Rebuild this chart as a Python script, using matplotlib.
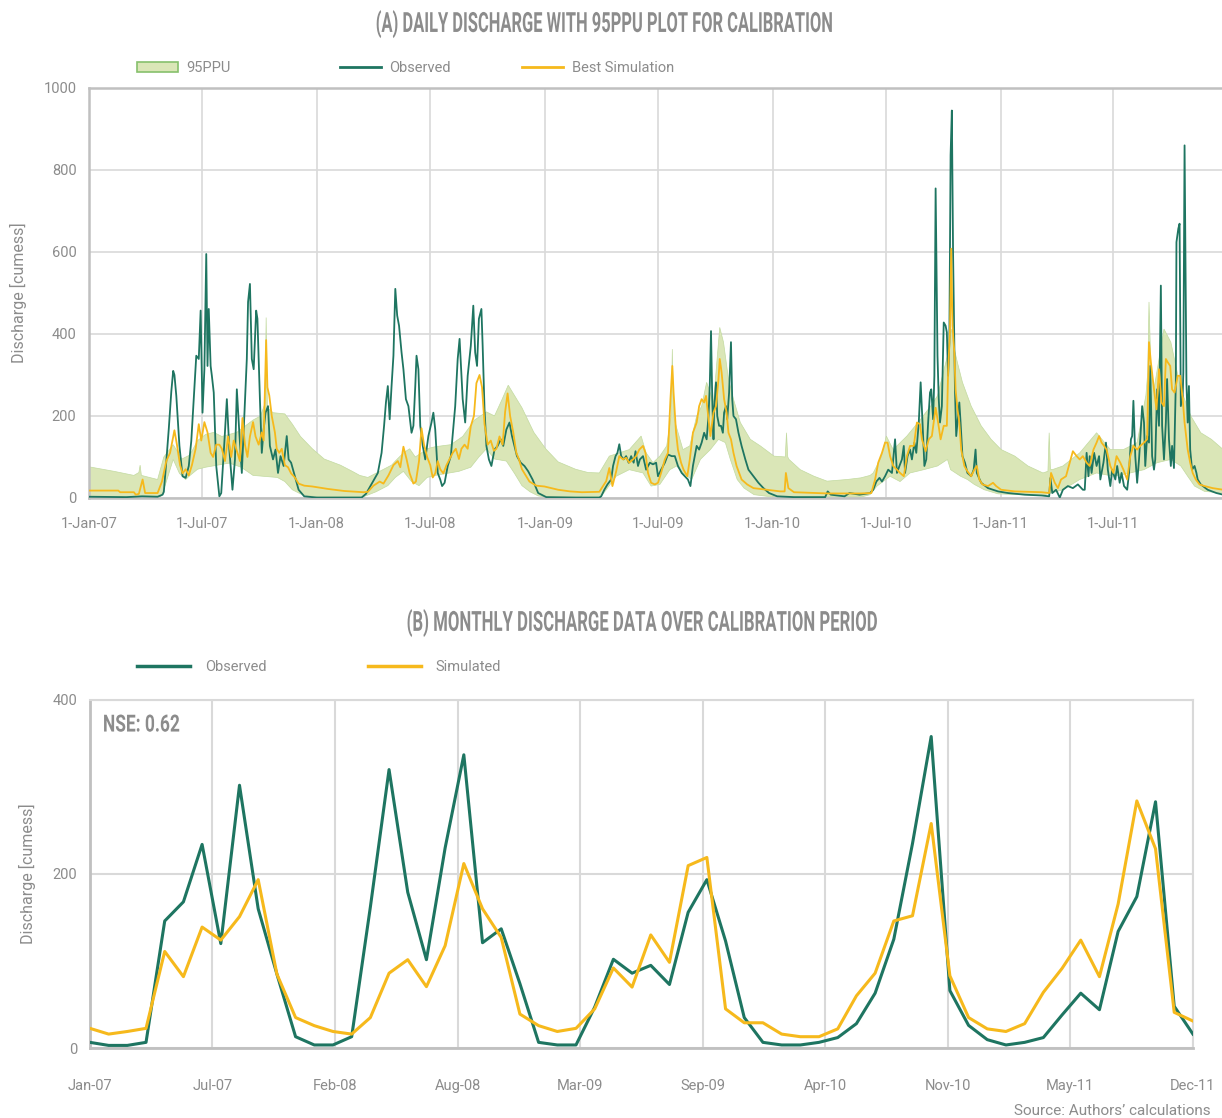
import numpy as np
import matplotlib
matplotlib.use('Agg')
import matplotlib.pyplot as plt
from matplotlib.patches import Patch
from matplotlib.lines import Line2D
from matplotlib import patheffects
from matplotlib.transforms import Affine2D

### Data

# daily series: (day since 1-Jan-2007, discharge)
obs_daily = [
    (0, 3), (60, 2), (85, 4), (110, 3), (118, 8), (120, 15), (124, 90), (128, 170), (132, 260), (135, 310),
    (137, 300), (140, 249), (145, 127), (150, 53), (155, 49), (160, 78), (164, 139), (168, 241), (172, 347),
    (176, 339), (179, 457), (182, 208), (185, 314), (188, 595), (190, 322), (192, 461), (195, 322), (197, 298),
    (200, 257), (204, 78), (209, 4), (212, 12), (217, 135), (221, 241), (225, 118), (230, 20), (234, 94),
    (237, 265), (241, 159), (245, 61), (249, 200), (253, 339), (255, 478), (258, 522), (261, 339), (264, 314),
    (268, 457), (270, 437), (274, 241), (277, 110), (280, 167), (283, 208), (287, 224), (290, 127), (295, 94),
    (299, 118), (303, 61), (307, 102), (312, 78), (317, 151), (320, 94), (324, 86), (330, 53), (336, 20),
    (345, 4), (365, 1), (400, 1), (437, 1), (444, 10), (454, 37), (463, 61), (469, 110), (473, 176), (476, 233),
    (479, 273), (482, 192), (485, 273), (488, 347), (491, 510), (494, 445), (497, 420), (501, 355), (504, 314),
    (508, 241), (512, 224), (517, 159), (520, 176), (523, 273), (525, 347), (528, 314), (531, 176), (535, 127),
    (539, 94), (544, 151), (549, 184), (552, 208), (555, 167), (559, 61), (563, 45), (566, 29), (570, 37),
    (575, 78), (580, 102), (587, 224), (591, 339), (594, 388), (596, 331), (599, 241), (603, 184), (607, 298),
    (612, 371), (616, 469), (619, 355), (622, 322), (625, 437), (629, 461), (631, 371), (634, 216), (637, 127),
    (641, 94), (645, 78), (650, 118), (655, 127), (660, 143), (664, 127), (669, 167), (674, 184), (678, 151),
    (682, 127), (686, 102), (692, 86), (698, 78), (704, 65), (711, 45), (720, 12), (733, 2), (780, 1),
    (818, 1), (821, 4), (826, 20), (831, 33), (837, 45), (840, 78), (844, 102), (847, 110), (850, 131),
    (853, 102), (857, 94), (861, 102), (865, 86), (869, 102), (873, 86), (876, 114), (880, 78), (883, 94),
    (888, 102), (893, 69), (899, 86), (904, 82), (909, 86), (912, 53), (917, 69), (923, 86), (928, 106),
    (934, 102), (939, 102), (944, 78), (950, 61), (955, 53), (960, 45), (964, 29), (968, 78), (974, 127),
    (978, 118), (982, 135), (986, 159), (990, 143), (993, 200), (995, 273), (997, 407), (999, 241), (1001, 143),
    (1002, 216), (1005, 282), (1007, 200), (1010, 176), (1013, 176), (1016, 159), (1018, 208), (1021, 224),
    (1023, 192), (1026, 257), (1029, 380), (1031, 241), (1033, 200), (1037, 192), (1041, 159), (1046, 127),
    (1052, 94), (1057, 69), (1065, 53), (1073, 37), (1081, 24), (1090, 12), (1103, 4), (1130, 2), (1180, 2),
    (1184, 16), (1189, 8), (1211, 4), (1219, 12), (1235, 8), (1252, 12), (1257, 20), (1262, 40), (1267, 49),
    (1271, 40), (1276, 53), (1281, 69), (1287, 61), (1292, 143), (1295, 61), (1299, 78), (1303, 94),
    (1306, 127), (1308, 61), (1312, 102), (1316, 118), (1319, 94), (1323, 135), (1326, 110), (1330, 184),
    (1333, 282), (1336, 184), (1339, 78), (1342, 94), (1345, 184), (1348, 257), (1350, 265), (1353, 192),
    (1355, 298), (1357, 755), (1360, 347), (1362, 241), (1364, 184), (1367, 224), (1370, 428), (1373, 420),
    (1375, 404), (1377, 298), (1379, 379), (1381, 836), (1383, 945), (1385, 592), (1388, 265), (1390, 151),
    (1392, 184), (1395, 233), (1397, 184), (1400, 102), (1404, 86), (1408, 61), (1414, 53), (1418, 69),
    (1421, 118), (1423, 61), (1430, 37), (1441, 24), (1457, 16), (1473, 12), (1500, 8), (1527, 6), (1539, 4),
    (1541, 49), (1544, 12), (1550, 20), (1556, 1), (1561, 20), (1569, 29), (1577, 24), (1585, 33), (1593, 20),
    (1596, 20), (1599, 110), (1602, 53), (1604, 102), (1607, 61), (1611, 110), (1615, 78), (1619, 102),
    (1621, 45), (1626, 86), (1630, 135), (1633, 69), (1637, 29), (1640, 69), (1645, 45), (1648, 78), (1652, 37),
    (1655, 61), (1659, 29), (1664, 20), (1667, 61), (1670, 143), (1672, 151), (1674, 237), (1677, 102),
    (1680, 37), (1683, 94), (1685, 143), (1688, 224), (1691, 184), (1693, 78), (1696, 151), (1699, 135),
    (1701, 322), (1704, 102), (1707, 69), (1709, 94), (1712, 265), (1715, 176), (1718, 518), (1720, 176),
    (1723, 94), (1726, 184), (1728, 290), (1731, 143), (1734, 78), (1736, 127), (1739, 73), (1742, 282),
    (1743, 624), (1746, 657), (1748, 669), (1750, 224), (1753, 249), (1754, 306), (1756, 860), (1759, 282),
    (1761, 184), (1763, 273), (1765, 118), (1768, 69), (1772, 78), (1775, 61), (1777, 45), (1782, 33),
    (1793, 20), (1807, 12), (1818, 8),
]

sim_daily = [
    (0, 18), (47, 18), (50, 14), (72, 14), (75, 8), (80, 10), (86, 45), (90, 12), (110, 12), (117, 40),
    (124, 90), (130, 110), (137, 165), (141, 130), (146, 80), (150, 60), (155, 70), (160, 55), (165, 80),
    (171, 120), (176, 180), (180, 140), (185, 185), (190, 160), (195, 110), (199, 100), (204, 130), (209, 130),
    (213, 120), (218, 90), (223, 150), (228, 100), (232, 140), (237, 115), (242, 90), (246, 195), (250, 130),
    (254, 100), (258, 150), (263, 185), (267, 150), (272, 130), (277, 160), (280, 140), (284, 385), (286, 270),
    (289, 250), (293, 200), (298, 160), (301, 120), (305, 110), (309, 120), (314, 80), (319, 75), (324, 60),
    (330, 50), (336, 35), (345, 30), (358, 28), (383, 22), (409, 17), (440, 14), (447, 15), (456, 30),
    (466, 40), (472, 35), (480, 55), (488, 80), (495, 90), (499, 75), (504, 125), (509, 95), (514, 60),
    (520, 35), (524, 40), (529, 90), (533, 170), (537, 130), (542, 100), (547, 80), (551, 50), (555, 60),
    (559, 90), (563, 70), (568, 60), (573, 80), (578, 95), (583, 110), (588, 120), (593, 95), (597, 120),
    (602, 130), (607, 120), (612, 175), (617, 200), (621, 280), (626, 300), (630, 270), (634, 180), (639, 130),
    (644, 140), (649, 115), (653, 120), (658, 150), (663, 130), (667, 210), (671, 255), (675, 200), (680, 160),
    (685, 110), (689, 95), (694, 70), (700, 55), (706, 40), (717, 30), (730, 28), (752, 20), (771, 16),
    (790, 14), (818, 15), (829, 41), (834, 73), (839, 29), (845, 65), (850, 102), (856, 94), (861, 98),
    (866, 86), (872, 94), (877, 102), (882, 118), (888, 127), (892, 110), (896, 61), (901, 37), (907, 33),
    (912, 37), (917, 61), (923, 94), (928, 110), (932, 241), (935, 322), (937, 257), (941, 159), (944, 118),
    (949, 86), (953, 69), (959, 53), (963, 94), (968, 159), (974, 184), (978, 224), (982, 241), (986, 233),
    (989, 249), (993, 192), (996, 151), (1001, 208), (1005, 224), (1009, 290), (1011, 339), (1014, 306),
    (1018, 241), (1022, 208), (1025, 159), (1029, 143), (1033, 110), (1038, 78), (1046, 45), (1055, 33),
    (1065, 24), (1087, 20), (1108, 16), (1115, 16), (1117, 61), (1121, 24), (1130, 14), (1184, 11),
    (1237, 11), (1254, 12), (1260, 45), (1265, 86), (1271, 110), (1276, 135), (1280, 135), (1284, 102),
    (1289, 78), (1295, 69), (1300, 61), (1306, 53), (1311, 102), (1316, 127), (1322, 127), (1327, 184),
    (1332, 180), (1335, 143), (1341, 114), (1346, 143), (1351, 151), (1357, 220), (1361, 184), (1365, 143),
    (1370, 176), (1375, 176), (1377, 306), (1380, 412), (1382, 608), (1384, 420), (1387, 355), (1389, 265),
    (1392, 216), (1395, 184), (1398, 118), (1403, 78), (1408, 65), (1414, 53), (1419, 69), (1423, 78),
    (1427, 45), (1432, 33), (1441, 29), (1449, 37), (1454, 29), (1462, 20), (1484, 16), (1527, 14),
    (1539, 12), (1542, 61), (1548, 37), (1553, 24), (1558, 45), (1566, 53), (1572, 86), (1577, 114),
    (1583, 102), (1588, 94), (1593, 102), (1599, 86), (1604, 78), (1610, 118), (1615, 135), (1619, 151),
    (1623, 135), (1627, 127), (1631, 118), (1637, 78), (1642, 61), (1647, 102), (1653, 86), (1658, 69),
    (1664, 45), (1669, 102), (1674, 127), (1680, 118), (1685, 127), (1691, 135), (1696, 143), (1699, 380),
    (1702, 331), (1707, 265), (1711, 216), (1715, 314), (1719, 233), (1723, 224), (1726, 339), (1729, 331),
    (1733, 322), (1736, 265), (1740, 257), (1745, 298), (1749, 298), (1753, 241), (1756, 184), (1761, 118),
    (1765, 86), (1769, 61), (1774, 45), (1780, 33), (1788, 29), (1801, 24), (1818, 20),
]

ppu_upper = [
    (0, 76), (40, 65), (72, 55), (80, 62), (82, 80), (84, 55), (110, 45), (120, 100), (135, 130), (149, 95),
    (162, 105), (174, 140), (187, 155), (200, 160), (213, 150), (237, 160), (263, 190), (275, 200), (282, 230),
    (284, 440), (286, 220), (295, 208), (314, 205), (326, 180), (339, 150), (358, 120), (377, 95), (403, 80),
    (422, 65), (434, 55), (447, 50), (466, 65), (485, 80), (491, 90), (504, 110), (514, 120), (523, 100),
    (533, 110), (542, 120), (555, 125), (580, 130), (599, 150), (618, 190), (637, 210), (650, 200), (662, 240),
    (672, 275), (682, 250), (694, 220), (713, 160), (732, 120), (752, 88), (780, 70), (800, 62), (818, 61),
    (834, 102), (850, 110), (866, 118), (885, 151), (893, 110), (904, 86), (915, 102), (926, 127), (933, 200),
    (935, 363), (937, 200), (941, 176), (952, 118), (963, 127), (974, 200), (982, 224), (990, 282), (1001, 233),
    (1011, 416), (1017, 380), (1025, 290), (1033, 241), (1044, 184), (1060, 143), (1076, 127), (1098, 102),
    (1116, 100), (1118, 159), (1120, 100), (1122, 94), (1140, 69), (1162, 53), (1183, 41), (1215, 45),
    (1237, 49), (1252, 55), (1257, 61), (1270, 100), (1278, 151), (1289, 118), (1311, 151), (1333, 192),
    (1349, 224), (1360, 249), (1376, 347), (1382, 412), (1387, 363), (1392, 330), (1400, 282), (1414, 224),
    (1430, 176), (1446, 143), (1462, 118), (1484, 102), (1505, 78), (1529, 61), (1537, 65), (1539, 159),
    (1541, 70), (1544, 69), (1561, 78), (1588, 110), (1615, 159), (1637, 118), (1658, 118), (1680, 135),
    (1694, 250), (1697, 306), (1699, 478), (1702, 320), (1707, 265), (1723, 412), (1734, 380), (1750, 265),
    (1766, 200), (1782, 159), (1799, 143), (1818, 118),
]

ppu_lower = [
    (0, 3), (115, 3), (122, 30), (135, 94), (145, 60), (155, 45), (162, 55), (174, 70), (187, 75), (206, 80),
    (225, 85), (244, 75), (263, 55), (302, 50), (314, 40), (326, 20), (339, 10), (352, 5), (365, 3), (440, 3),
    (460, 15), (479, 30), (491, 50), (504, 65), (517, 40), (529, 30), (542, 50), (555, 55), (574, 60),
    (593, 65), (612, 75), (625, 100), (637, 120), (650, 95), (669, 90), (682, 60), (694, 30), (707, 15),
    (720, 5), (733, 2), (820, 2), (829, 20), (845, 53), (866, 69), (888, 61), (901, 29), (915, 33), (931, 69),
    (942, 78), (952, 61), (966, 45), (980, 94), (996, 118), (1009, 143), (1020, 135), (1028, 94), (1039, 45),
    (1050, 24), (1066, 8), (1087, 4), (1237, 2), (1252, 8), (1263, 29), (1284, 53), (1300, 40), (1316, 61),
    (1338, 69), (1360, 78), (1376, 94), (1381, 69), (1389, 61), (1397, 53), (1408, 45), (1419, 33),
    (1435, 20), (1457, 10), (1527, 6), (1561, 20), (1588, 45), (1615, 61), (1642, 53), (1669, 61), (1691, 69),
    (1712, 86), (1734, 94), (1750, 78), (1761, 53), (1772, 29), (1788, 16), (1818, 12),
]

daily_ticks = ['2007-01-01', '2007-07-01', '2008-01-01', '2008-07-01', '2009-01-01',
               '2009-07-01', '2010-01-01', '2010-07-01', '2011-01-01', '2011-07-01']
daily_tick_labels = ['1-Jan-07', '1-Jul-07', '1-Jan-08', '1-Jul-08', '1-Jan-09',
                     '1-Jul-09', '1-Jan-10', '1-Jul-10', '1-Jan-11', '1-Jul-11']

# monthly series Jan-07 .. Dec-11
obs_monthly = [6.5, 3, 3, 6.5, 146, 168, 234, 120, 302, 160,
               85, 13, 3.5, 3.5, 13, 162, 320, 179, 101.5, 230,
               337, 121, 137, 74, 6.5, 3.5, 3.5, 47, 102, 86,
               95, 73, 156, 193.5, 123, 35, 6.5, 3.5, 3.5, 6.5,
               12, 28, 63, 125, 235, 358, 66, 26, 9.6, 3.5,
               6.5, 12, 38, 63, 44, 134, 174, 283, 48, 16]
sim_monthly = [22.6, 16, 19, 22.6, 111, 82, 139, 124, 151, 193.5,
               85, 35, 25.7, 19, 16, 35, 86, 101.5, 70.5, 117.6,
               212, 160, 127, 39, 25.7, 19, 22.6, 45, 92, 70,
               130, 98.5, 209.6, 219, 45, 29, 29, 16, 13, 13,
               22, 60, 86, 146, 152, 258, 83, 35, 22, 19,
               28, 64, 91.5, 124, 82, 165.5, 284, 229, 41, 31]
monthly_tick_labels = ['Jan-07', 'Jul-07', 'Feb-08', 'Aug-08', 'Mar-09',
                       'Sep-09', 'Apr-10', 'Nov-10', 'May-11', 'Dec-11']

### Styling
GREEN = '#1e7561'
YELLOW = '#f6b91c'
BAND = '#dae6b7'
BAND_EDGE = '#c2daa0'
GRAY_TXT = '#8c8c8c'
GRID = '#d9d9d9'
SPINE = '#c0c0c0'

plt.rcParams['font.family'] = ['Roboto', 'DejaVu Sans']


class Squeeze(patheffects.AbstractPathEffect):
    # narrow a text horizontally around x0 (display px) to mimic a condensed face
    def __init__(self, sx, x0):
        super().__init__()
        self.sx = sx
        self.x0 = x0

    def draw_path(self, renderer, gc, tpath, affine, rgbFace=None):
        aff = affine + Affine2D().translate(-self.x0, 0).scale(self.sx, 1).translate(self.x0, 0)
        renderer.draw_path(gc, tpath, aff, rgbFace)


start = np.datetime64('2007-01-01')


def to_dates(pairs):
    days = np.array([p[0] for p in pairs])
    vals = np.array([p[1] for p in pairs], dtype=float)
    return start + days.astype('timedelta64[D]'), vals


def legend_item(handle, label, x, y, hlen, tpad=0.6):
    # one legend entry whose handle starts at figure fraction x
    leg = fig.legend([handle], [label], loc='center left', bbox_to_anchor=(x, y),
                     frameon=False, borderpad=0, borderaxespad=0, handlelength=hlen,
                     handletextpad=tpad, fontsize=10.5, labelcolor=GRAY_TXT)
    return leg


obs_d, obs_v = to_dates(obs_daily)
sim_d, sim_v = to_dates(sim_daily)
up_d, up_v = to_dates(ppu_upper)
lo_d, lo_v = to_dates(ppu_lower)

fig = plt.figure(figsize=(12.22, 11.18), dpi=100)
W = 1222.0

### (A) daily
ax1 = fig.add_axes([0.0728, 0.5546, 0.9272, 0.3667])
band_x = np.concatenate([up_d, lo_d[::-1]])
band_y = np.concatenate([up_v, lo_v[::-1]])
ax1.fill(band_x, band_y, facecolor=BAND, edgecolor=BAND_EDGE, linewidth=0.5, zorder=1)
ax1.plot(obs_d, obs_v, color=GREEN, lw=1.3, zorder=3)
ax1.plot(sim_d, sim_v, color=YELLOW, lw=1.3, zorder=4)

ax1.set_xlim(start, np.datetime64('2011-12-22'))
ax1.set_ylim(0, 1000)
ax1.set_yticks(np.arange(0, 1001, 200))
ax1.set_xticks([np.datetime64(t) for t in daily_ticks])
ax1.set_xticklabels(daily_tick_labels)
ax1.grid(True, color=GRID, lw=1.2, zorder=0)
ax1.set_axisbelow(True)
for s in ['left', 'bottom', 'top']:
    ax1.spines[s].set_color(SPINE)
    ax1.spines[s].set_linewidth(1.8)
ax1.spines['right'].set_visible(False)
ax1.tick_params(length=0, labelsize=10.5, labelcolor=GRAY_TXT, pad=9)
ax1.tick_params(axis='x', pad=14)
ax1.set_ylabel('Discharge [cumess]', color=GRAY_TXT, fontsize=11.5, labelpad=12)

title_a = fig.text(0.494, 0.9785, '(A) DAILY DISCHARGE WITH 95PPU PLOT FOR CALIBRATION',
                   ha='center', va='center', fontsize=20, fontweight='bold', color=GRAY_TXT)

legend_item(Patch(facecolor=BAND, edgecolor='#86c06c', linewidth=1.2), '95PPU', 137 / W, 0.939, 2.8)
legend_item(Line2D([], [], color=GREEN, lw=2), 'Observed', 340 / W, 0.939, 2.8)
legend_item(Line2D([], [], color=YELLOW, lw=2), 'Best Simulation', 522 / W, 0.939, 2.8)

### (B) monthly
ax2 = fig.add_axes([0.0736, 0.0626, 0.9026, 0.3113])
months = np.arange(len(obs_monthly))
ax2.plot(months, obs_monthly, color=GREEN, lw=2.2, zorder=3)
ax2.plot(months, sim_monthly, color=YELLOW, lw=2.2, zorder=4)
ax2.set_xlim(0, len(obs_monthly) - 1)
ax2.set_ylim(0, 400)
ax2.set_yticks([0, 200, 400])
ax2.set_xticks(np.linspace(0, len(obs_monthly) - 1, len(monthly_tick_labels)))
ax2.set_xticklabels(monthly_tick_labels)
ax2.grid(True, color=GRID, lw=1.5, zorder=0)
ax2.set_axisbelow(True)
for s in ['left', 'bottom']:
    ax2.spines[s].set_color(SPINE)
    ax2.spines[s].set_linewidth(2)
for s in ['top', 'right']:
    ax2.spines[s].set_color(GRID)
    ax2.spines[s].set_linewidth(1.5)
ax2.tick_params(length=0, labelsize=10.5, labelcolor=GRAY_TXT, pad=9)
ax2.tick_params(axis='x', pad=22)
ax2.set_ylabel('Discharge [cumess]', color=GRAY_TXT, fontsize=11.5, labelpad=12)
nse = ax2.text(0.0118, 0.928, 'NSE: 0.62', transform=ax2.transAxes, ha='left', va='center',
               fontsize=17, fontweight='bold', color=GRAY_TXT)

title_b = fig.text(0.525, 0.4428, '(B) MONTHLY DISCHARGE DATA OVER CALIBRATION PERIOD',
                   ha='center', va='center', fontsize=20, fontweight='bold', color=GRAY_TXT)

legend_item(Line2D([], [], color=GREEN, lw=2.5), 'Observed', 137 / W, 0.4034, 3.6, tpad=1.05)
legend_item(Line2D([], [], color=YELLOW, lw=2.5), 'Simulated', 368 / W, 0.4034, 3.6, tpad=1.05)

fig.text(0.991, 0.0, 'Source: Authors\u2019 calculations', ha='right', va='bottom',
         fontsize=11, color=GRAY_TXT)

# condensed look for the headline texts: fit them to the widths seen in the reference
fig.canvas.draw()
for txt, target_w, centred in [(title_a, 456, True), (title_b, 470, True), (nse, 77, False)]:
    bb = txt.get_window_extent()
    x0 = (bb.x0 + bb.x1) / 2 if centred else bb.x0
    txt.set_path_effects([Squeeze(target_w / bb.width, x0)])

fig.savefig('out.png', dpi=100)
